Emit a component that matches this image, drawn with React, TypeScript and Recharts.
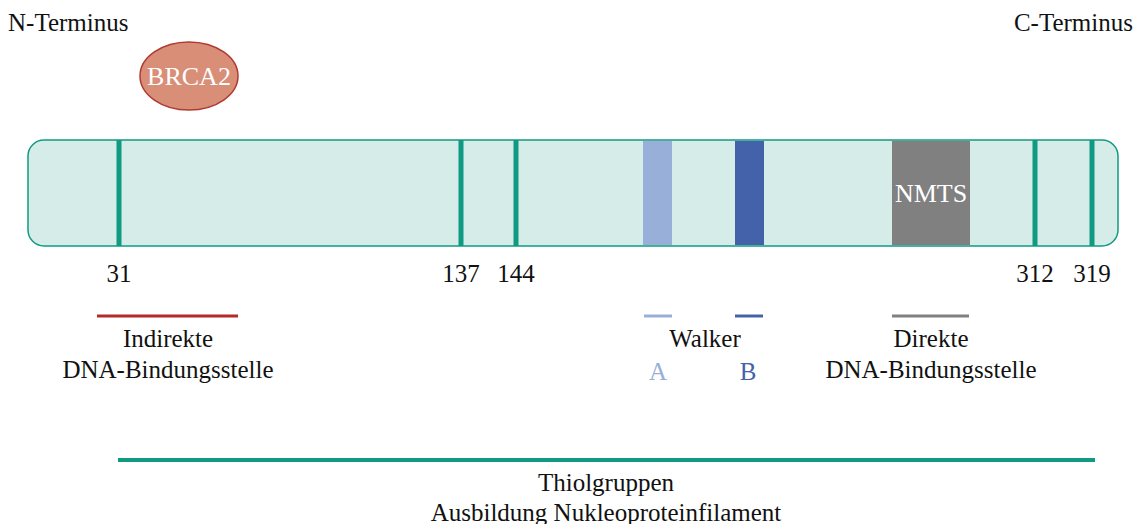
import { ComposedChart, XAxis, YAxis, ReferenceArea, ReferenceLine, ReferenceDot, Scatter } from "recharts"

// schematic layout units (the drawing is not to scale)
const residues = [31, 137, 144, 312, 319]
const residuePos = [119, 461, 516, 1035, 1092]

const domainNames = ["Walker A", "Walker B", "NMTS"]
const domainStart = [643, 735, 892]
const domainEnd = [672, 764, 970]
const domainColors = ["#98afd9", "#4462a9", "#808080"]

const legendNames = ["Indirekte", "Walker A", "Walker B", "Direkte"]
const legendStart = [97, 644, 735, 892]
const legendEnd = [238, 672, 763, 969]
const legendColors = ["#b22a2a", "#98afd9", "#4462a9", "#808080"]

const proteinStart = 28
const proteinEnd = 1118
const thiolStart = 118
const thiolEnd = 1095

const TEAL = "#119a83"
const FONT = "'Liberation Serif', 'Times New Roman', serif"

const tickData = residues.map((r, i) => ({ x: residuePos[i], y: 273, label: String(r) }))

const textLabels = [
  { x: 8, y: 22, text: "N-Terminus", anchor: "start", color: "#111" },
  { x: 1133, y: 22, text: "C-Terminus", anchor: "end", color: "#111" },
  { x: 168, y: 338, text: "Indirekte", anchor: "middle", color: "#111" },
  { x: 168, y: 369, text: "DNA-Bindungsstelle", anchor: "middle", color: "#111" },
  { x: 705, y: 338, text: "Walker", anchor: "middle", color: "#111" },
  { x: 658, y: 371, text: "A", anchor: "middle", color: "#98afd9" },
  { x: 748, y: 371, text: "B", anchor: "middle", color: "#4462a9" },
  { x: 931, y: 338, text: "Direkte", anchor: "middle", color: "#111" },
  { x: 931, y: 369, text: "DNA-Bindungsstelle", anchor: "middle", color: "#111" },
  { x: 606, y: 482, text: "Thiolgruppen", anchor: "middle", color: "#111" },
  { x: 606, y: 512, text: "Ausbildung Nukleoproteinfilament", anchor: "middle", color: "#111" },
]

const TextShape = (props: any) => {
  const { cx, cy, payload } = props
  return (
    <text x={cx} y={cy} textAnchor={payload.anchor ?? "middle"} dominantBaseline="central"
      fontFamily={FONT} fontSize={25} fill={payload.color ?? "#111"}>
      {payload.text ?? payload.label}
    </text>
  )
}

const RoundedBox = (props: any) => {
  const { x, y, width, height } = props
  return <rect x={x} y={y} width={width} height={height} rx={16} ry={16} fill="#d6ece8" stroke={TEAL} strokeWidth={1.5} />
}

export default function App() {
  return (
    <div style={{ position: "absolute", left: 0, top: 0 }}>
      <ComposedChart width={1138} height={524} margin={{ top: 0, right: 0, bottom: 0, left: 0 }} data={tickData}>
        <XAxis type="number" dataKey="x" domain={[0, 1138]} hide allowDataOverflow />
        <YAxis type="number" dataKey="y" domain={[0, 524]} reversed hide allowDataOverflow width={0} />

        <ReferenceArea x1={proteinStart} x2={proteinEnd} y1={140} y2={246} shape={<RoundedBox />} ifOverflow="visible" />

        {domainNames.map((n, i) => (
          <ReferenceArea key={n} x1={domainStart[i]} x2={domainEnd[i]} y1={141} y2={245}
            fill={domainColors[i]} fillOpacity={1} stroke="none" ifOverflow="visible" />
        ))}

        {residuePos.map((p) => (
          <ReferenceLine key={p} segment={[{ x: p, y: 140 }, { x: p, y: 246 }]} stroke={TEAL} strokeWidth={5} ifOverflow="visible" />
        ))}

        {legendNames.map((n, i) => (
          <ReferenceLine key={n} segment={[{ x: legendStart[i], y: 316 }, { x: legendEnd[i], y: 316 }]}
            stroke={legendColors[i]} strokeWidth={3} ifOverflow="visible" />
        ))}

        <ReferenceLine segment={[{ x: thiolStart, y: 460 }, { x: thiolEnd, y: 460 }]} stroke={TEAL} strokeWidth={4} ifOverflow="visible" />

        <ReferenceDot x={189} y={76} r={1} ifOverflow="visible"
          shape={(p: any) => (
            <g>
              <ellipse cx={p.cx} cy={p.cy} rx={49} ry={34} fill="#d98e78" stroke="#b03a32" strokeWidth={1.5} />
              <text x={p.cx} y={p.cy} textAnchor="middle" dominantBaseline="central" fontFamily={FONT} fontSize={26} fill="#fff">BRCA2</text>
            </g>
          )} />

        <ReferenceDot x={931} y={193} r={1} ifOverflow="visible"
          shape={(p: any) => (
            <text x={p.cx} y={p.cy} textAnchor="middle" dominantBaseline="central" fontFamily={FONT} fontSize={26} fill="#fff">NMTS</text>
          )} />

        <Scatter data={tickData} dataKey="y" shape={<TextShape />} isAnimationActive={false} />
        <Scatter data={textLabels} dataKey="y" shape={<TextShape />} isAnimationActive={false} />
      </ComposedChart>
    </div>
  )
}
